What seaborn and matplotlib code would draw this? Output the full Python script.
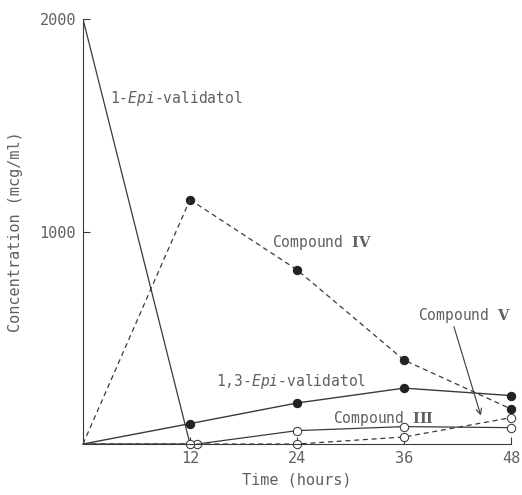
import matplotlib
matplotlib.use("Agg")
import matplotlib.pyplot as plt
import seaborn as sns
import pandas as pd

# Data (hours, mcg/ml)
epi1_t = [0, 12]
epi1_c = [2000, 0]

cpd4_t = [0, 12, 24, 36, 48]
cpd4_c = [0, 1150, 820, 395, 165]

epi13_t = [0, 12, 24, 36, 48]
epi13_c = [0, 96, 193, 263, 228]

cpd3_t = [0, 12.8, 24, 36, 48]
cpd3_c = [0, 0, 63, 82, 77]

cpd5_t = [0, 12, 24, 36, 48]
cpd5_c = [0, 0, 0, 33, 124]

xticks = [12, 24, 36, 48]
yticks = [1000, 2000]

sns.set_style("ticks")
plt.rcParams['font.family'] = ['DejaVu Sans Mono', 'DejaVu Sans']
plt.rcParams['mathtext.fontset'] = 'custom'
plt.rcParams['mathtext.it'] = 'DejaVu Sans Mono:italic'
plt.rcParams['mathtext.bf'] = 'DejaVu Serif:bold'
plt.rcParams['mathtext.rm'] = 'DejaVu Sans Mono'

line_col = '#3a3a3a'
text_col = '#606060'

fig = plt.figure(figsize=(5.22, 4.95), dpi=100)
ax = fig.add_axes([0.159, 0.103, 0.820, 0.8586])

ms = 6.0
sns.lineplot(x=epi1_t, y=epi1_c, ax=ax, color=line_col, lw=0.9,
             estimator=None, sort=False)
sns.lineplot(x=cpd4_t[1:], y=cpd4_c[1:], ax=ax, color=line_col, lw=0.9,
             linestyle=(0, (4, 3)), marker='o', markersize=ms,
             markerfacecolor='#222222', markeredgecolor='#222222',
             estimator=None, sort=False, clip_on=False)
ax.plot(cpd4_t[:2], cpd4_c[:2], color=line_col, lw=0.9, linestyle=(0, (4, 3)))
sns.lineplot(x=epi13_t, y=epi13_c, ax=ax, color=line_col, lw=1.0,
             marker='o', markersize=ms, markerfacecolor='#222222',
             markeredgecolor='#222222', markevery=[1, 2, 3, 4],
             estimator=None, sort=False, clip_on=False)
sns.lineplot(x=cpd3_t, y=cpd3_c, ax=ax, color=line_col, lw=0.9,
             marker='o', markersize=ms, markerfacecolor='white',
             markeredgecolor=line_col, markevery=[1, 2, 3, 4],
             estimator=None, sort=False, clip_on=False)
sns.lineplot(x=cpd5_t, y=cpd5_c, ax=ax, color=line_col, lw=0.9,
             linestyle=(0, (4, 3)), marker='o', markersize=ms,
             markerfacecolor='white', markeredgecolor=line_col,
             markevery=[1, 2, 3, 4],
             estimator=None, sort=False, clip_on=False)

ax.set_xlim(0, 48)
ax.set_ylim(0, 2000)
ax.set_xticks(xticks)
ax.set_yticks(yticks)
ax.tick_params(direction='in', length=5, width=0.8, colors=line_col,
               labelcolor=text_col, labelsize=11)
ax.tick_params(axis='y', pad=5)
ax.tick_params(axis='x', pad=5)
sns.despine(ax=ax)
for s in ['left', 'bottom']:
    ax.spines[s].set_color(line_col)
    ax.spines[s].set_linewidth(0.8)

ax.set_xlabel('Time (hours)', color=text_col, fontsize=11, labelpad=5)
ax.set_ylabel('Concentration (mcg/ml)', color=text_col, fontsize=11, labelpad=12)

fs = 10.5
ax.text(3.0, 1628, r'1-$\mathit{Epi}$-validatol', color=text_col, fontsize=fs, va='center')
ax.text(21.2, 950, r'Compound $\mathbf{IV}$', color=text_col, fontsize=fs, va='center')
ax.text(14.9, 296, r'1,3-$\mathit{Epi}$-validatol', color=text_col, fontsize=fs, va='center')
ax.text(28.0, 122, r'Compound $\mathbf{III}$', color=text_col, fontsize=fs, va='center')
ax.text(37.6, 607, r'Compound $\mathbf{V}$', color=text_col, fontsize=fs, va='center')
ax.annotate('', xy=(44.7, 122), xytext=(41.5, 565),
            arrowprops=dict(arrowstyle='->', color=line_col, lw=0.8))

fig.savefig('out.png', dpi=100)
